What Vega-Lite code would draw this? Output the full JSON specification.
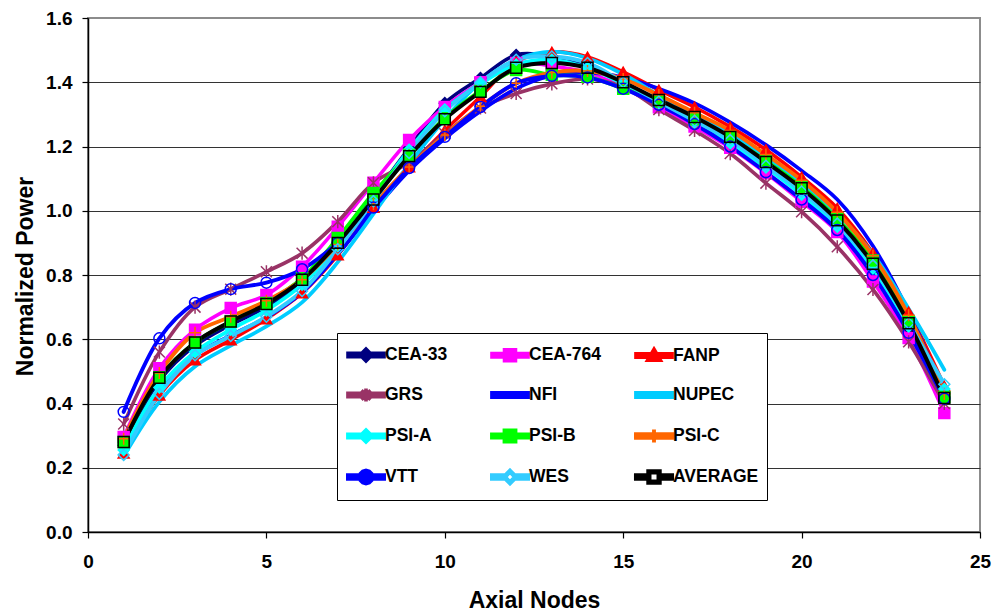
{
"$schema": "https://vega.github.io/schema/vega-lite/v6.json",
"width": 892, "height": 514,
"autosize": {"type": "none"},
"padding": {"left": 88, "top": 18, "right": 13, "bottom": 83},
"background": "white",
"config": {
  "font": "Liberation Sans",
  "view": {"stroke": "#8c8c8c", "strokeWidth": 2},
  "axis": {"labelFont": "Liberation Sans", "labelFontWeight": "bold", "labelFontSize": 19, "labelColor": "#000", "titleFont": "Liberation Sans", "titleFontWeight": "bold", "titleFontSize": 23, "titleColor": "#000", "domainColor": "#000", "domainWidth": 1.5, "tickColor": "#000", "tickWidth": 1.2, "tickSize": 6, "gridColor": "#333", "gridWidth": 1, "gridOpacity": 1, "labelOverlap": false}
},
"data": {"values": [
{"series":"CEA-33","node":1,"value":0.27},{"series":"CEA-33","node":2,"value":0.47},{"series":"CEA-33","node":3,"value":0.58},{"series":"CEA-33","node":4,"value":0.645},{"series":"CEA-33","node":5,"value":0.70},{"series":"CEA-33","node":6,"value":0.78},{"series":"CEA-33","node":7,"value":0.90},{"series":"CEA-33","node":8,"value":1.045},{"series":"CEA-33","node":9,"value":1.195},{"series":"CEA-33","node":10,"value":1.335},{"series":"CEA-33","node":11,"value":1.413},{"series":"CEA-33","node":12,"value":1.485},{"series":"CEA-33","node":13,"value":1.48},{"series":"CEA-33","node":14,"value":1.45},{"series":"CEA-33","node":15,"value":1.40},{"series":"CEA-33","node":16,"value":1.34},{"series":"CEA-33","node":17,"value":1.28},{"series":"CEA-33","node":18,"value":1.215},{"series":"CEA-33","node":19,"value":1.14},{"series":"CEA-33","node":20,"value":1.055},{"series":"CEA-33","node":21,"value":0.955},{"series":"CEA-33","node":22,"value":0.82},{"series":"CEA-33","node":23,"value":0.635},{"series":"CEA-33","node":24,"value":0.42},
{"series":"CEA-764","node":1,"value":0.296},{"series":"CEA-764","node":2,"value":0.51},{"series":"CEA-764","node":3,"value":0.63},{"series":"CEA-764","node":4,"value":0.697},{"series":"CEA-764","node":5,"value":0.738},{"series":"CEA-764","node":6,"value":0.826},{"series":"CEA-764","node":7,"value":0.95},{"series":"CEA-764","node":8,"value":1.087},{"series":"CEA-764","node":9,"value":1.22},{"series":"CEA-764","node":10,"value":1.323},{"series":"CEA-764","node":11,"value":1.40},{"series":"CEA-764","node":12,"value":1.46},{"series":"CEA-764","node":13,"value":1.45},{"series":"CEA-764","node":14,"value":1.43},{"series":"CEA-764","node":15,"value":1.385},{"series":"CEA-764","node":16,"value":1.322},{"series":"CEA-764","node":17,"value":1.262},{"series":"CEA-764","node":18,"value":1.196},{"series":"CEA-764","node":19,"value":1.117},{"series":"CEA-764","node":20,"value":1.028},{"series":"CEA-764","node":21,"value":0.934},{"series":"CEA-764","node":22,"value":0.78},{"series":"CEA-764","node":23,"value":0.604},{"series":"CEA-764","node":24,"value":0.37},
{"series":"FANP","node":1,"value":0.245},{"series":"FANP","node":2,"value":0.426},{"series":"FANP","node":3,"value":0.535},{"series":"FANP","node":4,"value":0.598},{"series":"FANP","node":5,"value":0.663},{"series":"FANP","node":6,"value":0.744},{"series":"FANP","node":7,"value":0.862},{"series":"FANP","node":8,"value":1.01},{"series":"FANP","node":9,"value":1.136},{"series":"FANP","node":10,"value":1.25},{"series":"FANP","node":11,"value":1.355},{"series":"FANP","node":12,"value":1.463},{"series":"FANP","node":13,"value":1.494},{"series":"FANP","node":14,"value":1.479},{"series":"FANP","node":15,"value":1.432},{"series":"FANP","node":16,"value":1.376},{"series":"FANP","node":17,"value":1.323},{"series":"FANP","node":18,"value":1.261},{"series":"FANP","node":19,"value":1.19},{"series":"FANP","node":20,"value":1.105},{"series":"FANP","node":21,"value":1.008},{"series":"FANP","node":22,"value":0.868},{"series":"FANP","node":23,"value":0.685},{"series":"FANP","node":24,"value":0.454},
{"series":"GRS","node":1,"value":0.336},{"series":"GRS","node":2,"value":0.56},{"series":"GRS","node":3,"value":0.70},{"series":"GRS","node":4,"value":0.756},{"series":"GRS","node":5,"value":0.81},{"series":"GRS","node":6,"value":0.868},{"series":"GRS","node":7,"value":0.966},{"series":"GRS","node":8,"value":1.087},{"series":"GRS","node":9,"value":1.15},{"series":"GRS","node":10,"value":1.24},{"series":"GRS","node":11,"value":1.32},{"series":"GRS","node":12,"value":1.365},{"series":"GRS","node":13,"value":1.395},{"series":"GRS","node":14,"value":1.41},{"series":"GRS","node":15,"value":1.385},{"series":"GRS","node":16,"value":1.315},{"series":"GRS","node":17,"value":1.25},{"series":"GRS","node":18,"value":1.178},{"series":"GRS","node":19,"value":1.086},{"series":"GRS","node":20,"value":0.997},{"series":"GRS","node":21,"value":0.888},{"series":"GRS","node":22,"value":0.755},{"series":"GRS","node":23,"value":0.592},{"series":"GRS","node":24,"value":0.40},
{"series":"NFI","node":1,"value":0.26},{"series":"NFI","node":2,"value":0.44},{"series":"NFI","node":3,"value":0.55},{"series":"NFI","node":4,"value":0.612},{"series":"NFI","node":5,"value":0.668},{"series":"NFI","node":6,"value":0.745},{"series":"NFI","node":7,"value":0.865},{"series":"NFI","node":8,"value":1.0},{"series":"NFI","node":9,"value":1.125},{"series":"NFI","node":10,"value":1.225},{"series":"NFI","node":11,"value":1.31},{"series":"NFI","node":12,"value":1.38},{"series":"NFI","node":13,"value":1.42},{"series":"NFI","node":14,"value":1.43},{"series":"NFI","node":15,"value":1.415},{"series":"NFI","node":16,"value":1.38},{"series":"NFI","node":17,"value":1.335},{"series":"NFI","node":18,"value":1.275},{"series":"NFI","node":19,"value":1.205},{"series":"NFI","node":20,"value":1.125},{"series":"NFI","node":21,"value":1.035},{"series":"NFI","node":22,"value":0.89},{"series":"NFI","node":23,"value":0.685},{"series":"NFI","node":24,"value":0.43},
{"series":"NUPEC","node":1,"value":0.235},{"series":"NUPEC","node":2,"value":0.405},{"series":"NUPEC","node":3,"value":0.515},{"series":"NUPEC","node":4,"value":0.58},{"series":"NUPEC","node":5,"value":0.64},{"series":"NUPEC","node":6,"value":0.715},{"series":"NUPEC","node":7,"value":0.84},{"series":"NUPEC","node":8,"value":0.99},{"series":"NUPEC","node":9,"value":1.145},{"series":"NUPEC","node":10,"value":1.285},{"series":"NUPEC","node":11,"value":1.40},{"series":"NUPEC","node":12,"value":1.47},{"series":"NUPEC","node":13,"value":1.495},{"series":"NUPEC","node":14,"value":1.475},{"series":"NUPEC","node":15,"value":1.425},{"series":"NUPEC","node":16,"value":1.36},{"series":"NUPEC","node":17,"value":1.30},{"series":"NUPEC","node":18,"value":1.24},{"series":"NUPEC","node":19,"value":1.165},{"series":"NUPEC","node":20,"value":1.085},{"series":"NUPEC","node":21,"value":0.99},{"series":"NUPEC","node":22,"value":0.865},{"series":"NUPEC","node":23,"value":0.695},{"series":"NUPEC","node":24,"value":0.505},
{"series":"PSI-A","node":1,"value":0.255},{"series":"PSI-A","node":2,"value":0.45},{"series":"PSI-A","node":3,"value":0.56},{"series":"PSI-A","node":4,"value":0.63},{"series":"PSI-A","node":5,"value":0.69},{"series":"PSI-A","node":6,"value":0.77},{"series":"PSI-A","node":7,"value":0.89},{"series":"PSI-A","node":8,"value":1.04},{"series":"PSI-A","node":9,"value":1.19},{"series":"PSI-A","node":10,"value":1.315},{"series":"PSI-A","node":11,"value":1.395},{"series":"PSI-A","node":12,"value":1.455},{"series":"PSI-A","node":13,"value":1.47},{"series":"PSI-A","node":14,"value":1.445},{"series":"PSI-A","node":15,"value":1.395},{"series":"PSI-A","node":16,"value":1.335},{"series":"PSI-A","node":17,"value":1.275},{"series":"PSI-A","node":18,"value":1.21},{"series":"PSI-A","node":19,"value":1.135},{"series":"PSI-A","node":20,"value":1.05},{"series":"PSI-A","node":21,"value":0.95},{"series":"PSI-A","node":22,"value":0.82},{"series":"PSI-A","node":23,"value":0.64},{"series":"PSI-A","node":24,"value":0.445},
{"series":"PSI-B","node":1,"value":0.28},{"series":"PSI-B","node":2,"value":0.482},{"series":"PSI-B","node":3,"value":0.59},{"series":"PSI-B","node":4,"value":0.655},{"series":"PSI-B","node":5,"value":0.713},{"series":"PSI-B","node":6,"value":0.79},{"series":"PSI-B","node":7,"value":0.915},{"series":"PSI-B","node":8,"value":1.055},{"series":"PSI-B","node":9,"value":1.174},{"series":"PSI-B","node":10,"value":1.288},{"series":"PSI-B","node":11,"value":1.373},{"series":"PSI-B","node":12,"value":1.438},{"series":"PSI-B","node":13,"value":1.423},{"series":"PSI-B","node":14,"value":1.417},{"series":"PSI-B","node":15,"value":1.38},{"series":"PSI-B","node":16,"value":1.34},{"series":"PSI-B","node":17,"value":1.285},{"series":"PSI-B","node":18,"value":1.228},{"series":"PSI-B","node":19,"value":1.155},{"series":"PSI-B","node":20,"value":1.075},{"series":"PSI-B","node":21,"value":0.975},{"series":"PSI-B","node":22,"value":0.845},{"series":"PSI-B","node":23,"value":0.655},{"series":"PSI-B","node":24,"value":0.42},
{"series":"PSI-C","node":1,"value":0.29},{"series":"PSI-C","node":2,"value":0.495},{"series":"PSI-C","node":3,"value":0.62},{"series":"PSI-C","node":4,"value":0.67},{"series":"PSI-C","node":5,"value":0.72},{"series":"PSI-C","node":6,"value":0.785},{"series":"PSI-C","node":7,"value":0.895},{"series":"PSI-C","node":8,"value":1.02},{"series":"PSI-C","node":9,"value":1.136},{"series":"PSI-C","node":10,"value":1.236},{"series":"PSI-C","node":11,"value":1.325},{"series":"PSI-C","node":12,"value":1.397},{"series":"PSI-C","node":13,"value":1.43},{"series":"PSI-C","node":14,"value":1.435},{"series":"PSI-C","node":15,"value":1.41},{"series":"PSI-C","node":16,"value":1.36},{"series":"PSI-C","node":17,"value":1.305},{"series":"PSI-C","node":18,"value":1.25},{"series":"PSI-C","node":19,"value":1.175},{"series":"PSI-C","node":20,"value":1.095},{"series":"PSI-C","node":21,"value":0.995},{"series":"PSI-C","node":22,"value":0.86},{"series":"PSI-C","node":23,"value":0.675},{"series":"PSI-C","node":24,"value":0.43},
{"series":"VTT","node":1,"value":0.374},{"series":"VTT","node":2,"value":0.603},{"series":"VTT","node":3,"value":0.713},{"series":"VTT","node":4,"value":0.756},{"series":"VTT","node":5,"value":0.776},{"series":"VTT","node":6,"value":0.818},{"series":"VTT","node":7,"value":0.90},{"series":"VTT","node":8,"value":1.01},{"series":"VTT","node":9,"value":1.133},{"series":"VTT","node":10,"value":1.23},{"series":"VTT","node":11,"value":1.323},{"series":"VTT","node":12,"value":1.397},{"series":"VTT","node":13,"value":1.42},{"series":"VTT","node":14,"value":1.415},{"series":"VTT","node":15,"value":1.38},{"series":"VTT","node":16,"value":1.33},{"series":"VTT","node":17,"value":1.27},{"series":"VTT","node":18,"value":1.20},{"series":"VTT","node":19,"value":1.12},{"series":"VTT","node":20,"value":1.035},{"series":"VTT","node":21,"value":0.94},{"series":"VTT","node":22,"value":0.80},{"series":"VTT","node":23,"value":0.62},{"series":"VTT","node":24,"value":0.415},
{"series":"WES","node":1,"value":0.24},{"series":"WES","node":2,"value":0.43},{"series":"WES","node":3,"value":0.55},{"series":"WES","node":4,"value":0.61},{"series":"WES","node":5,"value":0.67},{"series":"WES","node":6,"value":0.75},{"series":"WES","node":7,"value":0.88},{"series":"WES","node":8,"value":1.03},{"series":"WES","node":9,"value":1.18},{"series":"WES","node":10,"value":1.31},{"series":"WES","node":11,"value":1.40},{"series":"WES","node":12,"value":1.47},{"series":"WES","node":13,"value":1.48},{"series":"WES","node":14,"value":1.46},{"series":"WES","node":15,"value":1.40},{"series":"WES","node":16,"value":1.34},{"series":"WES","node":17,"value":1.28},{"series":"WES","node":18,"value":1.22},{"series":"WES","node":19,"value":1.14},{"series":"WES","node":20,"value":1.06},{"series":"WES","node":21,"value":0.96},{"series":"WES","node":22,"value":0.83},{"series":"WES","node":23,"value":0.65},{"series":"WES","node":24,"value":0.46},
{"series":"AVERAGE","node":1,"value":0.28},{"series":"AVERAGE","node":2,"value":0.48},{"series":"AVERAGE","node":3,"value":0.59},{"series":"AVERAGE","node":4,"value":0.655},{"series":"AVERAGE","node":5,"value":0.71},{"series":"AVERAGE","node":6,"value":0.785},{"series":"AVERAGE","node":7,"value":0.90},{"series":"AVERAGE","node":8,"value":1.035},{"series":"AVERAGE","node":9,"value":1.17},{"series":"AVERAGE","node":10,"value":1.285},{"series":"AVERAGE","node":11,"value":1.37},{"series":"AVERAGE","node":12,"value":1.445},{"series":"AVERAGE","node":13,"value":1.46},{"series":"AVERAGE","node":14,"value":1.445},{"series":"AVERAGE","node":15,"value":1.40},{"series":"AVERAGE","node":16,"value":1.345},{"series":"AVERAGE","node":17,"value":1.292},{"series":"AVERAGE","node":18,"value":1.23},{"series":"AVERAGE","node":19,"value":1.152},{"series":"AVERAGE","node":20,"value":1.07},{"series":"AVERAGE","node":21,"value":0.97},{"series":"AVERAGE","node":22,"value":0.835},{"series":"AVERAGE","node":23,"value":0.65},{"series":"AVERAGE","node":24,"value":0.417}
]},
"layer": [
  {
    "mark": {"type": "line", "interpolate": "catmull-rom", "strokeCap": "round", "strokeJoin": "round"},
    "encoding": {
      "x": {"field": "node", "type": "quantitative", "scale": {"domain": [0, 25], "nice": false, "zero": false},
        "axis": {"values": [0, 5, 10, 15, 20, 25], "title": "Axial Nodes", "grid": false, "labelPadding": 14, "labelFlush": false, "titleY": 75, "titleBaseline": "alphabetic"}},
      "y": {"field": "value", "type": "quantitative", "scale": {"domain": [0, 1.6], "nice": false},
        "axis": {"values": [0, 0.2, 0.4, 0.6, 0.8, 1.0, 1.2, 1.4, 1.6], "format": ".1f", "title": "Normalized Power", "labelPadding": 10, "titleX": -56, "titleY": 258, "titleBaseline": "alphabetic", "titleAngle": 270,
          "gridColor": {"condition": {"test": "datum.value >= 1.59", "value": "#8c8c8c"}, "value": "#333333"}}},
      "stroke": {"field": "series", "type": "nominal",
        "scale": {"domain": ["CEA-33","CEA-764","FANP","GRS","NFI","NUPEC","PSI-A","PSI-B","PSI-C","VTT","WES","AVERAGE"],
                  "range": ["#000080","#FF00FF","#FF0000","#993366","#0000FF","#00CCFF","#00FFFF","#00FF00","#FF6600","#0000FF","#33CCFF","#000000"]},
        "legend": {
          "orient": "none", "legendX": 249, "legendY": 315, "columns": 3, "direction": "horizontal", "title": null,
          "fillColor": "#ffffff", "strokeColor": "#000000", "padding": 8, "cornerRadius": 0,
          "symbolSize": 484, "symbolStrokeWidth": 1, "symbolOffset": 8,
          "symbolType": {"expr": "['M-1.64,-0.155H1.64V0.155H-1.64Z M0,-0.54L0.54,0L0,0.54L-0.54,0Z', 'M-1.64,-0.155H1.64V0.155H-1.64Z M-0.5,-0.5H0.5V0.5H-0.5Z', 'M-1.64,-0.155H1.64V0.155H-1.64Z M0,-0.58L0.58,0.42H-0.58Z', 'M-1.64,-0.155H1.64V0.155H-1.64Z M-0.42,-0.42L0.42,0.42M-0.42,0.42L0.42,-0.42M0,-0.58V0.58', 'M-1.64,-0.2H1.64V0.2H-1.64Z', 'M-1.64,-0.2H1.64V0.2H-1.64Z', 'M-1.64,-0.155H1.64V0.155H-1.64Z M0,-0.54L0.54,0L0,0.54L-0.54,0Z', 'M-1.64,-0.155H1.64V0.155H-1.64Z M-0.5,-0.5H0.5V0.5H-0.5Z', 'M-1.64,-0.155H1.64V0.155H-1.64Z M0,-0.6V0.6', 'M-1.64,-0.155H1.64V0.155H-1.64Z M0.58,0L0.502,0.29L0.29,0.502L0,0.58L-0.29,0.502L-0.502,0.29L-0.58,0L-0.502,-0.29L-0.29,-0.502L0,-0.58L0.29,-0.502L0.502,-0.29Z M0.53,0L0.459,-0.265L0.265,-0.459L0,-0.53L-0.265,-0.459L-0.459,-0.265L-0.53,0L-0.459,0.265L-0.265,0.459L0,0.53L0.265,0.459L0.459,0.265Z', 'M-1.64,-0.155H-0.56V0.155H-1.64Z M0.56,-0.155H1.64V0.155H0.56Z M0,-0.58L0.58,0L0,0.58L-0.58,0Z M0,-0.46L-0.46,0L0,0.46L0.46,0Z', 'M-1.64,-0.155H-0.52V0.155H-1.64Z M0.52,-0.155H1.64V0.155H0.52Z M-0.52,-0.52H0.52V0.52H-0.52Z M-0.41,-0.41V0.41H0.41V-0.41Z'][indexof(['CEA-33','CEA-764','FANP','GRS','NFI','NUPEC','PSI-A','PSI-B','PSI-C','VTT','WES','AVERAGE'], datum.value)]"},
          "symbolFillColor": {"expr": "scale('stroke', datum.value)"},
          "symbolOpacity": 1,
          "labelFont": "Liberation Sans", "labelFontSize": 17.5, "labelFontWeight": "bold", "labelColor": "#000000", "labelLimit": 0, "labelOffset": 6,
          "rowPadding": 11, "columnPadding": 12, "gridAlign": "all"
        }},
      "strokeWidth": {"field": "series", "type": "nominal",
        "scale": {"domain": ["CEA-33","CEA-764","FANP","GRS","NFI","NUPEC","PSI-A","PSI-B","PSI-C","VTT","WES","AVERAGE"],
                  "range": [3.5, 4, 4, 4, 5, 5, 4, 4, 4, 4, 4, 4]},
        "legend": null}
    }
  },
  {
    "transform": [{"filter": {"field": "series", "oneOf": ["CEA-33","CEA-764","FANP","GRS","PSI-A","PSI-B","PSI-C","VTT","WES","AVERAGE"]}}],
    "mark": {"type": "point", "filled": false, "size": 120, "strokeWidth": 1.5, "opacity": 1},
    "encoding": {
      "x": {"field": "node", "type": "quantitative"},
      "y": {"field": "value", "type": "quantitative"},
      "stroke": {"field": "series", "type": "nominal", "legend": null},
      "fill": {"field": "series", "type": "nominal",
        "scale": {"domain": ["CEA-33","CEA-764","FANP","GRS","PSI-A","PSI-B","PSI-C","VTT","WES","AVERAGE"],
                  "range": ["#000080","#FF00FF","#FF0000","transparent","#00FFFF","#00FF00","transparent","transparent","transparent","transparent"]},
        "legend": null},
      "shape": {"field": "series", "type": "nominal",
        "scale": {"domain": ["CEA-33","CEA-764","FANP","GRS","PSI-A","PSI-B","PSI-C","VTT","WES","AVERAGE"],
                  "range": ["diamond","square","triangle-up","M-1,-1L1,1M-1,1L1,-1M0,-1.2V1.2","diamond","square","M-1.1,0H1.1M0,-1.1V1.1","circle","diamond","square"]},
        "legend": null}
    }
  }
]
}
